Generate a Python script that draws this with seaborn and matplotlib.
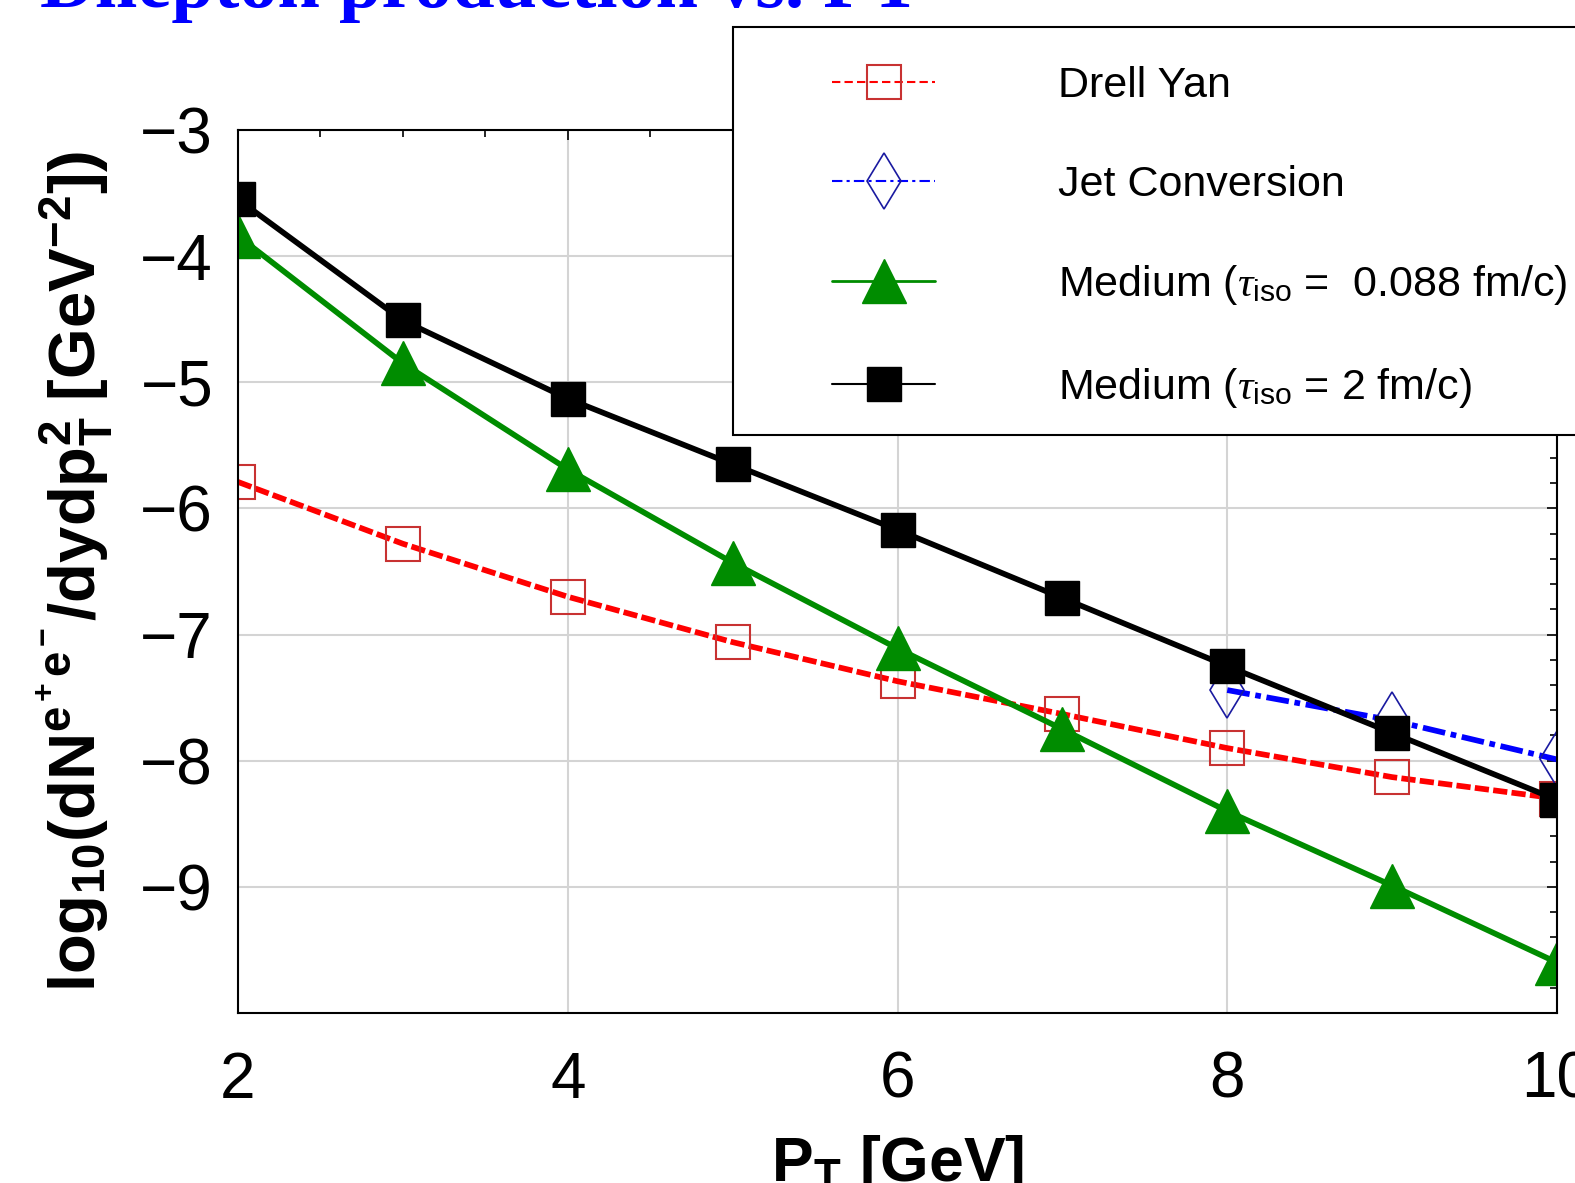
import numpy as np
import pandas as pd
import matplotlib
matplotlib.use("Agg")
import matplotlib.pyplot as plt
import seaborn as sns
from matplotlib.lines import Line2D
from matplotlib.patches import Rectangle
from matplotlib.ticker import MultipleLocator

# ---------------- data ----------------
pt = [2, 3, 4, 5, 6, 7, 8, 9, 10]
drell_yan = [-5.79, -6.28, -6.70, -7.06, -7.37, -7.63, -7.90, -8.13, -8.30]
jet_pt = [8, 9, 10]
jet_conversion = [-7.44, -7.68, -7.99]
medium_0088 = [-3.84, -4.85, -5.69, -6.43, -7.11, -7.75, -8.40, -8.99, -9.60]
medium_2 = [-3.55, -4.51, -5.13, -5.65, -6.17, -6.71, -7.25, -7.78, -8.31]

x_ticks = [2, 4, 6, 8, 10]
y_ticks = [-9, -8, -7, -6, -5, -4, -3]

labels = ["Drell Yan", "Jet Conversion",
          r"Medium ($\tau_{\rm iso}$ =  0.088 fm/c)",
          r"Medium ($\tau_{\rm iso}$ = 2 fm/c)"]
title = "Dilepton production vs. PT"

# ---------------- style ----------------
sns.set_style("white")
plt.rcParams["font.family"] = ["Liberation Sans", "DejaVu Sans"]
plt.rcParams.update({
    "mathtext.fontset": "custom",
    "mathtext.rm": "Liberation Sans",
    "mathtext.sf": "Liberation Sans",
    "mathtext.bf": "Liberation Sans:bold",
    "mathtext.it": "Liberation Serif:italic",
    "text.color": "black",
    "axes.labelcolor": "black",
    "xtick.color": "black",
    "ytick.color": "black",
})

W, H = 1575, 1183
fig = plt.figure(figsize=(W / 100, H / 100), dpi=100)
ax = fig.add_axes([238 / W, 1 - 1013 / H, (1557 - 238) / W, (1013 - 130) / H])

RED, RED_EDGE = "#ff0000", "#c83232"
BLUE, BLUE_EDGE = "#0000ff", "#1a1aa0"
GREEN = "#008c00"
BLACK = "#000000"

df_dy = pd.DataFrame({"pt": pt, "v": drell_yan})
df_jet = pd.DataFrame({"pt": jet_pt, "v": jet_conversion})
df_g = pd.DataFrame({"pt": pt, "v": medium_0088})
df_b = pd.DataFrame({"pt": pt, "v": medium_2})

LW = 4.1
sns.lineplot(data=df_dy, x="pt", y="v", ax=ax, color=RED, lw=LW,
             marker="s", ms=25, mfc="none", mec=RED_EDGE, mew=1.5)
ax.lines[-1].set_dashes([2.5, 0.75])
sns.lineplot(data=df_jet, x="pt", y="v", ax=ax, color=BLUE, lw=LW,
             marker="d", ms=29, mfc="none", mec=BLUE_EDGE, mew=1.2)
ax.lines[-1].set_dashes([4, 1, 1, 1])
sns.lineplot(data=df_g, x="pt", y="v", ax=ax, color=GREEN, lw=LW,
             marker="^", ms=31, mfc=GREEN, mec=GREEN, mew=1)
sns.lineplot(data=df_b, x="pt", y="v", ax=ax, color=BLACK, lw=LW,
             marker="s", ms=24, mfc=BLACK, mec=BLACK, mew=1)

ax.set_xlim(2, 10)
ax.set_ylim(-10, -3)
ax.set_xticks(x_ticks)
ax.set_yticks(y_ticks)
ax.xaxis.set_minor_locator(MultipleLocator(0.5))
ax.yaxis.set_minor_locator(MultipleLocator(0.2))
ax.tick_params(which="both", direction="in", top=True, right=True,
               width=1.2, color="black")
ax.tick_params(which="major", length=7)
ax.tick_params(which="minor", length=5)
ax.tick_params(axis="x", which="major", labelsize=46, pad=27, labelcolor="black")
ax.tick_params(axis="y", which="major", labelsize=46, pad=18, labelcolor="black")
ax.grid(True, which="major", color="#d4d4d4", lw=1.5)
ax.set_axisbelow(True)
for s in ax.spines.values():
    s.set_visible(True)
    s.set_color("black")
    s.set_linewidth(1.5)

ax.set_xlabel(r"$\mathbf{P_T}$ [GeV]", fontsize=45, fontweight="bold",
              labelpad=16, color="black")
ax.set_ylabel(r"$\mathbf{log_{10}(dN^{e^+e^-}/dydp_T^2\ [GeV^{-2}])}$",
              fontsize=47, labelpad=18, color="black")

# legend box (extends beyond the figure edge)
rect = Rectangle((733 / W, 1 - 435 / H), 1.0, 408 / H, transform=fig.transFigure,
                 fc="white", ec="black", lw=1.5, zorder=3)
fig.add_artist(rect)

handles = [
    Line2D([], [], color=RED, lw=1.5, ls=(0, (4, 2)), marker="s", ms=25,
           mfc="none", mec=RED_EDGE, mew=1.5),
    Line2D([], [], color=BLUE, lw=1.5, ls=(0, (5, 2, 1.5, 2)), marker="d", ms=29,
           mfc="none", mec=BLUE_EDGE, mew=1.2),
    Line2D([], [], color=GREEN, lw=2, marker="^", ms=31, mfc=GREEN, mec=GREEN),
    Line2D([], [], color=BLACK, lw=1.5, marker="s", ms=25, mfc=BLACK, mec=BLACK),
]
leg = fig.legend(handles, labels, loc="center left",
                 bbox_to_anchor=(832 / W, 1 - 238 / H), frameon=False,
                 fontsize=31, handlelength=2.4, handletextpad=2.85,
                 labelspacing=1.36, borderpad=0, borderaxespad=0)
leg.set_zorder(4)
for t in leg.get_texts():
    t.set_color("black")

fig.text(40 / W, 1 - 7 / H, title, color="#0000ff", fontsize=55,
         fontweight="bold", family="Liberation Serif", va="baseline", ha="left")

fig.savefig("out.png", dpi=100)
